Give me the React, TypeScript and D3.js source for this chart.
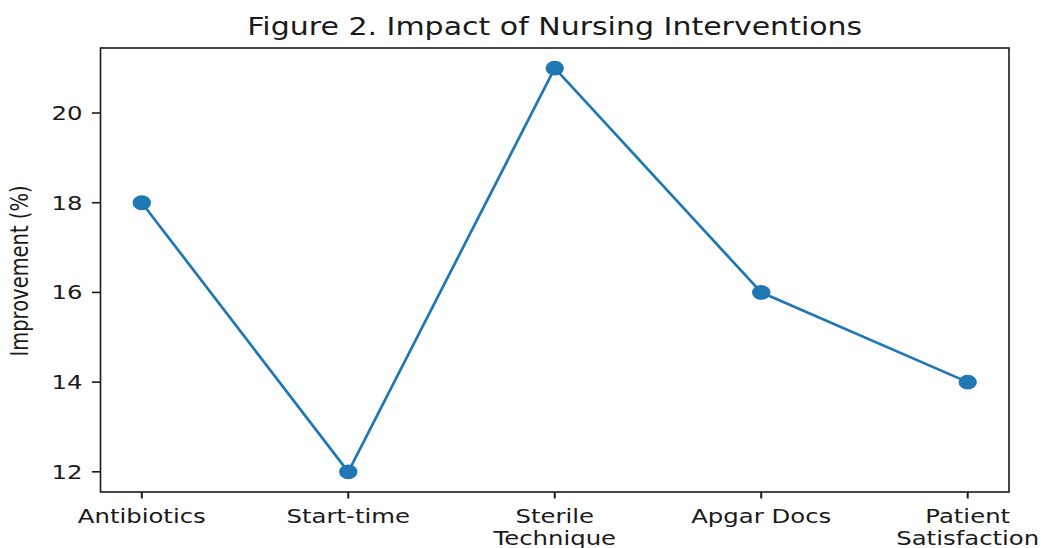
import React from "react";
import * as d3 from "d3";

const categories: string[][] = [
  ["Antibiotics"],
  ["Start-time"],
  ["Sterile", "Technique"],
  ["Apgar Docs"],
  ["Patient", "Satisfaction"],
];
const values: number[] = [18, 12, 21, 16, 14];
const yTicks: number[] = [12, 14, 16, 18, 20];
const title = "Figure 2. Impact of Nursing Interventions";
const yLabel = "Improvement (%)";

const W = 1043;
const H = 548;
const SX = 1.25; // horizontal stretch of the reference
const FONT = "'DejaVu Sans', sans-serif";
const FS = 19.5;

export default function App() {
  const x = d3.scaleLinear().domain([-0.2, 4.2]).range([100.5, 1009]);
  const y = d3.scaleLinear().domain([11.55, 21.45]).range([492, 48]);
  const idx = values.map((_, i) => i);
  const line = d3
    .line<number>()
    .x((i) => x(i))
    .y((i) => y(values[i]));
  const color = "#1f77b4";
  const ink = "#1a1a1a";

  return (
    <svg
      width={W}
      height={H}
      style={{ position: "absolute", left: 0, top: 0, background: "#fff" }}
      fontFamily={FONT}
    >
      <rect x={0} y={0} width={W} height={H} fill="#fff" />
      {/* title */}
      <text
        transform={`translate(${(x(-0.2) + x(4.2)) / 2},35) scale(${SX},1)`}
        textAnchor="middle"
        fontSize={24}
        fill={ink}
      >
        {title}
      </text>
      {/* y label */}
      <text
        transform={`translate(28,271) scale(${SX},1) rotate(-90)`}
        textAnchor="middle"
        fontSize={FS}
        fill={ink}
      >
        {yLabel}
      </text>
      {/* y ticks */}
      {yTicks.map((t) => (
        <g key={t}>
          <line x1={x(-0.2) - 8.6} x2={x(-0.2)} y1={y(t)} y2={y(t)} stroke={ink} strokeWidth={1.6} />
          <text
            transform={`translate(${x(-0.2) - 18},${y(t) + 7}) scale(${SX},1)`}
            textAnchor="end"
            fontSize={FS}
            fill={ink}
          >
            {t}
          </text>
        </g>
      ))}
      {/* x ticks */}
      {categories.map((lines, i) => (
        <g key={i}>
          <line x1={x(i)} x2={x(i)} y1={y(11.55)} y2={y(11.55) + 6.5} stroke={ink} strokeWidth={2} />
          {lines.map((l, j) => (
            <text
              key={j}
              transform={`translate(${x(i)},${522.5 + j * 22.5}) scale(${SX},1)`}
              textAnchor="middle"
              fontSize={FS}
              fill={ink}
            >
              {l}
            </text>
          ))}
        </g>
      ))}
      {/* data line */}
      <path d={line(idx) || ""} fill="none" stroke={color} strokeWidth={2.7} strokeLinejoin="round" />
      {idx.map((i) => (
        <ellipse key={i} cx={x(i)} cy={y(values[i])} rx={9.2} ry={7.4} fill={color} />
      ))}
      {/* spines */}
      <rect
        x={x(-0.2)}
        y={y(21.45)}
        width={x(4.2) - x(-0.2)}
        height={y(11.55) - y(21.45)}
        fill="none"
        stroke={ink}
        strokeWidth={1.6}
      />
    </svg>
  );
}
